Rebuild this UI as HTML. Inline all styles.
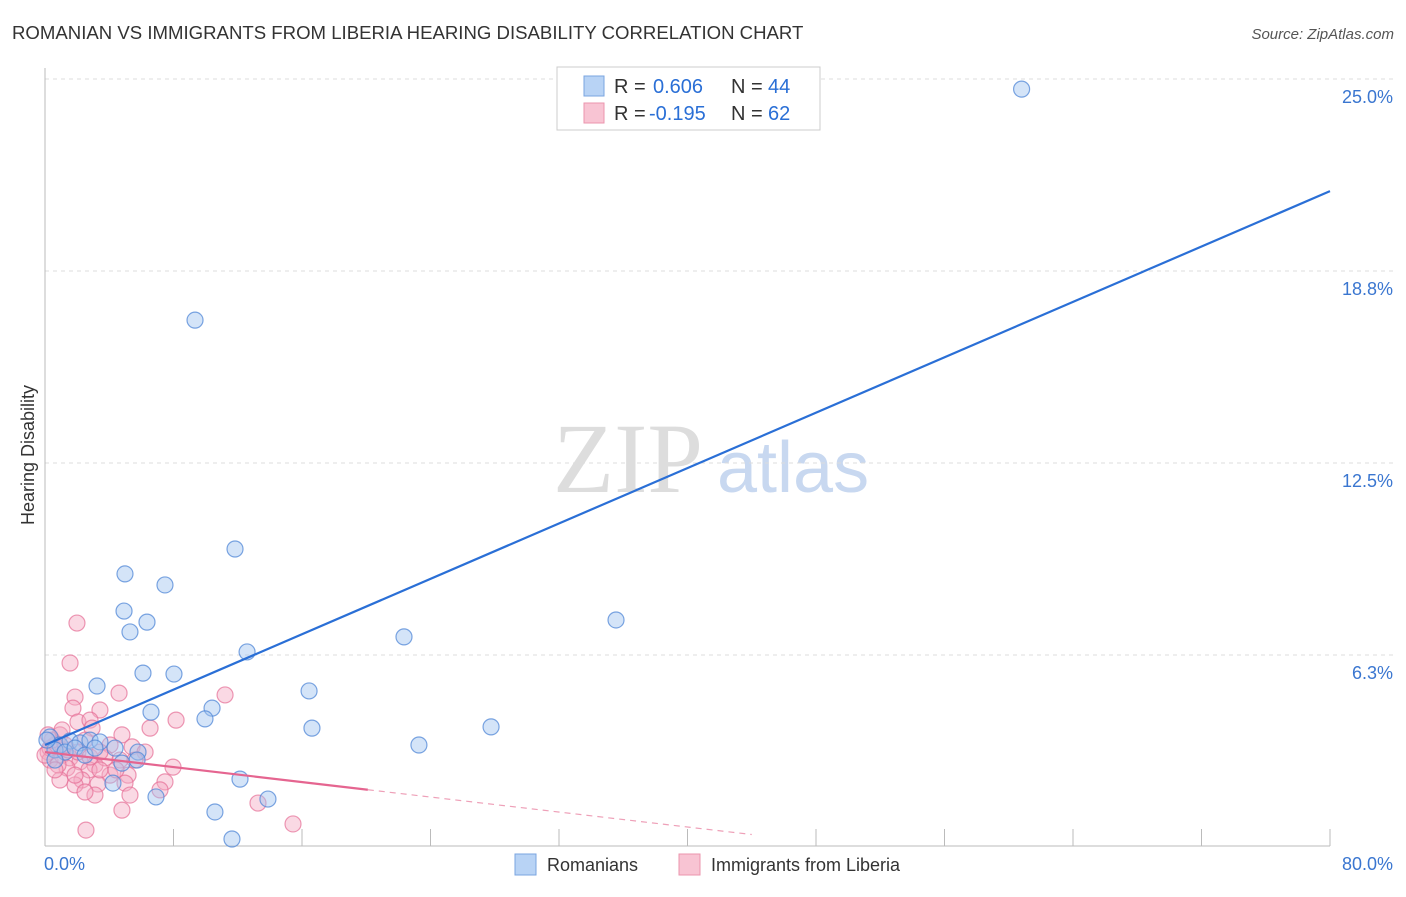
<!DOCTYPE html>
<html><head><meta charset="utf-8"><style>
body{margin:0;background:#fff;font-family:"Liberation Sans",sans-serif}
</style></head><body>
<svg id="c" width="1406" height="892" xmlns="http://www.w3.org/2000/svg">
<text x="12" y="39" font-size="18.6" fill="#333">ROMANIAN VS IMMIGRANTS FROM LIBERIA HEARING DISABILITY CORRELATION CHART</text>
<text x="1394" y="39" font-size="15" fill="#555" font-style="italic" text-anchor="end">Source: ZipAtlas.com</text>
<text x="553" y="492" font-size="100" fill="#ddd" font-family="Liberation Serif,serif">ZIP</text>
<text x="717" y="492" font-size="72" fill="#c8d8f0">atlas</text>
<text transform="translate(34,455) rotate(-90)" font-size="18" fill="#333" text-anchor="middle">Hearing Disability</text>
<g id="grid"></g><g id="axes"></g><g id="pts"></g><g id="lines"></g>
<g>
<rect x="557" y="67" width="263" height="63" fill="#fff" stroke="#ccc"/>
<rect x="584" y="76" width="20" height="20" fill="#b8d3f5" stroke="#7aa5e0"/>
<text y="93" font-size="20" fill="#333"><tspan x="614">R =</tspan><tspan x="653" fill="#2a6fd6">0.606</tspan><tspan x="731">N =</tspan><tspan x="768" fill="#2a6fd6">44</tspan></text>
<rect x="584" y="103" width="20" height="20" fill="#f8c4d3" stroke="#eb95ae"/>
<text y="120" font-size="20" fill="#333"><tspan x="614">R =</tspan><tspan x="649" fill="#2a6fd6">-0.195</tspan><tspan x="731">N =</tspan><tspan x="768" fill="#2a6fd6">62</tspan></text>
</g>
<g>
<rect x="515" y="854" width="21" height="21" fill="#b8d3f5" stroke="#7aa5e0"/>
<text x="547" y="871" font-size="18" fill="#333">Romanians</text>
<rect x="679" y="854" width="21" height="21" fill="#f8c4d3" stroke="#eb95ae"/>
<text x="711" y="871" font-size="18" fill="#333">Immigrants from Liberia</text>
</g>
</svg>
<script>
const yTicks=[25,18.75,12.5,6.25];
const yTickLabels=["25.0%","18.8%","12.5%","6.3%"];
const xLabels=["0.0%","80.0%"];
const blueX=[60.8,9.34,11.83,4.98,7.47,4.92,6.35,5.29,35.55,22.35,12.58,6.10,8.03,3.24,16.44,10.40,6.60,9.96,16.62,27.77,23.28,0.31,0.93,1.56,2.18,2.80,3.42,4.36,5.79,4.79,5.73,12.14,4.23,6.91,13.88,10.58,11.64,0.62,1.25,1.87,2.49,0.62,0.12,3.11];
const blueY=[24.67,17.15,9.70,8.89,8.53,7.68,7.32,7.00,7.39,6.84,6.35,5.66,5.63,5.24,5.08,4.52,4.39,4.17,3.87,3.91,3.32,3.58,3.32,3.45,3.39,3.48,3.42,3.22,3.09,2.73,2.83,2.21,2.08,1.63,1.56,1.14,0.26,3.16,3.09,3.22,2.99,2.83,3.48,3.22];
const pinkX=[1.99,1.56,1.87,4.61,11.21,1.74,3.42,2.05,2.80,2.93,8.16,6.54,0.93,4.79,2.49,4.05,5.42,6.23,0.62,0.19,0.31,1.06,1.56,2.18,3.11,3.74,4.67,7.97,1.37,2.74,4.05,5.17,2.30,0.93,1.87,3.30,4.98,7.47,3.11,7.16,4.79,13.26,15.44,2.55,0.31,0.00,0.81,1.43,0.44,1.25,2.05,2.80,3.42,0.62,5.60,4.42,1.87,5.29,1.06,3.42,0.19,2.49];
const pinkY=[7.29,5.99,4.88,5.01,4.95,4.52,4.46,4.07,4.13,3.87,4.13,3.87,3.65,3.65,3.48,3.32,3.26,3.09,3.32,3.09,2.83,2.99,2.90,2.77,2.67,2.90,2.83,2.60,2.57,2.51,2.34,2.34,2.18,2.18,2.02,2.05,2.08,2.12,1.69,1.86,1.20,1.43,0.75,0.55,3.22,2.99,2.67,3.16,3.48,3.32,3.09,2.93,3.09,2.51,2.83,2.51,2.34,1.69,3.81,2.51,3.65,1.79];
const blueTrend=[3.32,21.35];
const pinkTrend=[3.09,-0.061];
const NS="http://www.w3.org/2000/svg";
const X=v=>45+v/80*1285, Y=v=>847-v/6.25*192;
function mk(t,a,p){const e=document.createElementNS(NS,t);for(const k in a)e.setAttribute(k,a[k]);document.getElementById(p).appendChild(e);return e;}
yTicks.forEach((t,i)=>{
 const g=mk('line',{x1:45,x2:1395,y1:Y(t),y2:Y(t),stroke:'#ddd','stroke-dasharray':'4,4'},'grid');
 
 
 const l=mk('text',{x:1393,y:Y(t)+24,'font-size':18,fill:'#3a76d0','text-anchor':'end'},'axes');l.textContent=yTickLabels[i];
 
 
});
mk('line',{x1:45,x2:45,y1:68,y2:846,stroke:'#bbb'},'axes');
mk('line',{x1:45,x2:1330,y1:846,y2:846,stroke:'#bbb'},'axes');
for(let i=0;i<=10;i++){const t=mk('line',{x1:X(i*8),x2:X(i*8),y1:829,y2:846,stroke:'#bbb'},'axes');
 
 }
const xl0=mk('text',{x:44,y:870,'font-size':18,fill:'#3a76d0'},'axes');xl0.textContent=xLabels[0];


const xl1=mk('text',{x:1393,y:870,'font-size':18,fill:'#3a76d0','text-anchor':'end'},'axes');xl1.textContent=xLabels[1];


pinkX.forEach((v,i)=>{const c=mk('circle',{cx:X(v),cy:Y(pinkY[i]),r:8,fill:'rgba(244,170,195,0.45)',stroke:'rgba(230,110,150,0.7)','stroke-width':1.2},'pts');
 
 });
blueX.forEach((v,i)=>{const c=mk('circle',{cx:X(v),cy:Y(blueY[i]),r:8,fill:'rgba(160,195,240,0.45)',stroke:'rgba(80,135,215,0.75)','stroke-width':1.2},'pts');
 
 });
const bl=mk('line',{x1:X(0),y1:Y(blueTrend[0]),x2:X(80),y2:Y(blueTrend[1]),stroke:'#2a6fd6','stroke-width':2.2},'lines');


const pe=20.1, pd=44;
const pl=mk('line',{x1:X(0),y1:Y(pinkTrend[0]),x2:X(pe),y2:Y(pinkTrend[0]+pinkTrend[1]*pe),stroke:'#e56590','stroke-width':2.2},'lines');


const pdl=mk('line',{x1:X(pe),y1:Y(pinkTrend[0]+pinkTrend[1]*pe),x2:X(pd),y2:Y(pinkTrend[0]+pinkTrend[1]*pd),stroke:'#eea0b8','stroke-width':1.2,'stroke-dasharray':'6,5'},'lines');


</script>
</body></html>
